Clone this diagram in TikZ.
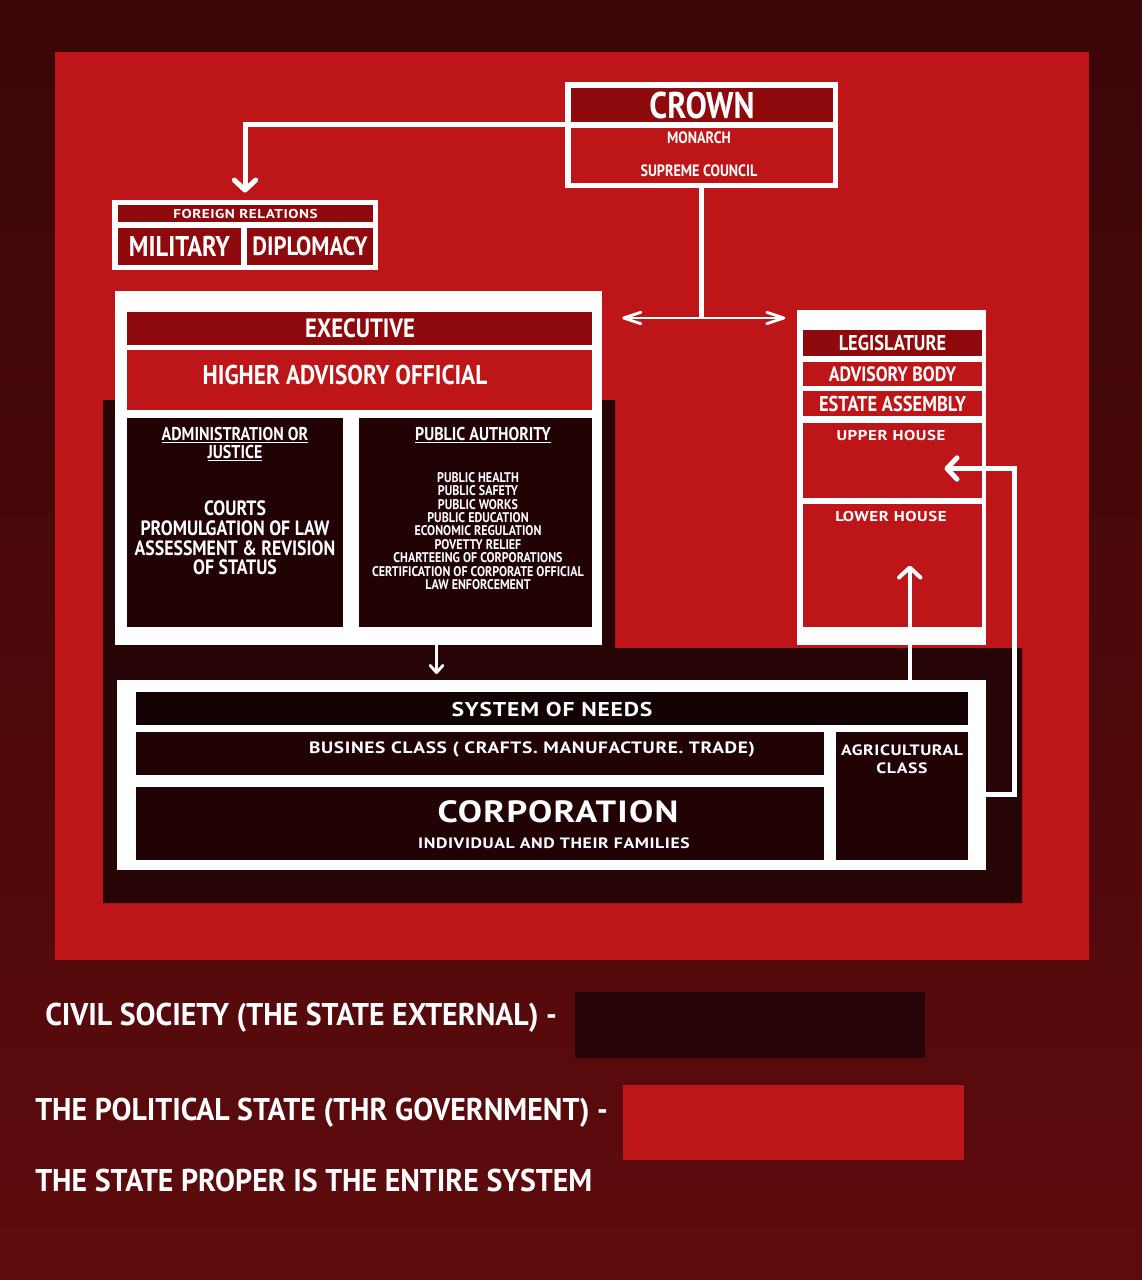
\documentclass[tikz,border=0pt]{standalone}
\usepackage{fontspec}
\setmainfont{PT Sans}[FakeStretch=0.86]
\newfontfamily\widefont{PT Sans}[FakeStretch=1.18,LetterSpace=4]
\newfontfamily\keyfont{PT Sans}[FakeStretch=0.95]
\usetikzlibrary{fit,calc,arrows.meta}

\definecolor{bgtop}{HTML}{3A0608}
\definecolor{bgbottom}{HTML}{5E0B0D}
\definecolor{govred}{HTML}{BE1519}
\definecolor{civil}{HTML}{270406}
\definecolor{barred}{HTML}{8E0A0D}
\definecolor{panel}{HTML}{210306}
\definecolor{needsbar}{HTML}{120203}

\newcommand\fsz[1]{\fontsize{#1}{#1}\selectfont}

\tikzset{
  frame/.style={fill=white, inner sep=0pt},
  bar/.style={fill=barred, inner sep=0pt},
  redpane/.style={fill=govred, inner sep=0pt},
  darkpane/.style={fill=panel, inner sep=0pt},
  lbl/.style={text=white, inner sep=0pt, align=center, font=\bfseries},
  widelbl/.style={text=white, inner sep=0pt, align=center, font=\widefont\bfseries},
  legend/.style={text=white, inner sep=0pt, anchor=west, font=\keyfont\bfseries\fsz{22}},
  link/.style={draw=white, line width=3.5pt},
  thinlink/.style={draw=white, line width=2pt},
  chev/.tip={Straight Barb[length=7pt,width=15pt,round]},
  flatchev/.tip={Straight Barb[length=12pt,width=8pt,round]},
  smallchev/.tip={Straight Barb[length=5pt,width=9pt,round]}
}

\begin{document}
\begin{tikzpicture}[x=0.7pt,y=-0.7pt]
\useasboundingbox (0,0) rectangle (1142,1280);
\fill[top color=bgtop,bottom color=bgbottom] (0,0) rectangle (1142,1280);

% political state and civil society grounds
\fill[govred] (55,52) rectangle (1089,960);
\fill[civil] (103,400) -- (615,400) -- (615,648) -- (1022,648)
  -- (1022,903) -- (103,903) -- cycle;

% crown
\node[frame, fit={(565,82) (838,188)}] (crown) {};
\node[bar, fit={(571,88) (833,122)}] (crownbar) {};
\node[redpane, fit={(571,128) (833,183)}] (crownlow) {};
\node[lbl, font=\bfseries\fsz{26}] (crowntxt) at (crownbar) {CROWN};
\node[lbl, font=\bfseries\fsz{11.5}] (monarch) at (699,138) {MONARCH};
\node[lbl, font=\bfseries\fsz{11.5}] (council) at (699,171) {SUPREME COUNCIL};

% foreign relations
\node[frame, fit={(112,200) (378,270)}] (foreign) {};
\node[bar, fit={(118,205) (373,222)}] (foreignbar) {};
\node[bar, fit={(118,228) (241,265)}] (military) {};
\node[bar, fit={(247,228) (373,265)}] (diplomacy) {};
\node[widelbl, font=\widefont\bfseries\fsz{9}] at (foreignbar) {FOREIGN RELATIONS};
\node[lbl, font=\bfseries\fsz{20}] at (military) {MILITARY};
\node[lbl, font=\bfseries\fsz{18.5}] at (diplomacy) {DIPLOMACY};

% executive
\node[frame, fit={(115,291) (602,645)}] (exec) {};
\node[bar, fit={(127,312) (592,345)}] (execbar) {};
\node[redpane, fit={(127,350) (592,410)}] (advisory) {};
\node[darkpane, fit={(127,418) (343,627)}] (admin) {};
\node[darkpane, fit={(359,418) (592,627)}] (authority) {};
\node[lbl, font=\bfseries\fsz{18.5}] at (360,328) {EXECUTIVE};
\node[lbl, font=\bfseries\fsz{19}] at (345,375) {HIGHER ADVISORY OFFICIAL};
\node[lbl, font=\bfseries\fontsize{13}{12.6}\selectfont] (adminhead) at (235,444)
  {\underline{ADMINISTRATION OR}\\\underline{JUSTICE}};
\node[lbl, font=\bfseries\fontsize{14.5}{13.8}\selectfont] (adminbody) at (235,538)
  {COURTS\\PROMULGATION OF LAW\\ASSESSMENT \& REVISION\\OF STATUS};
\node[lbl, font=\bfseries\fsz{13}] (authhead) at (483,435)
  {\underline{PUBLIC AUTHORITY}};
\node[lbl, font=\bfseries\fontsize{9.8}{9.4}\selectfont] (authbody) at (478,531)
  {PUBLIC HEALTH\\PUBLIC SAFETY\\PUBLIC WORKS\\PUBLIC EDUCATION\\ECONOMIC REGULATION\\
   POVETTY RELIEF\\CHARTEEING OF CORPORATIONS\\CERTIFICATION OF CORPORATE OFFICIAL\\LAW ENFORCEMENT};

% legislature
\node[frame, fit={(797,310) (986,645)}] (legis) {};
\node[bar, fit={(803,330) (982,356)}] (legisbar) {};
\node[redpane, fit={(803,362) (982,386)}] (advbody) {};
\node[redpane, fit={(803,391) (982,416)}] (estate) {};
\node[redpane, fit={(803,423) (982,498)}] (upper) {};
\node[redpane, fit={(803,504) (982,627)}] (lower) {};
\node[lbl, font=\bfseries\fsz{15}] at (legisbar) {LEGISLATURE};
\node[lbl, font=\bfseries\fsz{14.5}] at (advbody) {ADVISORY BODY};
\node[lbl, font=\bfseries\fsz{15}] at (estate) {ESTATE ASSEMBLY};
\node[widelbl, font=\widefont\bfseries\fsz{10}] (uppertxt) at (891,435) {UPPER HOUSE};
\node[widelbl, font=\widefont\bfseries\fsz{10}] (lowertxt) at (891,516) {LOWER HOUSE};

% system of needs
\node[frame, fit={(117,680) (986,870)}] (needs) {};
\node[bar, fill=needsbar, fit={(136,692) (968,725)}] (needsbar) {};
\node[darkpane, fit={(136,732) (824,775)}] (business) {};
\node[darkpane, fit={(136,787) (824,860)}] (corporation) {};
\node[darkpane, fit={(836,732) (968,860)}] (agri) {};
\node[widelbl, font=\widefont\bfseries\fsz{14}] at (552,709) {SYSTEM OF NEEDS};
\node[widelbl, font=\widefont\bfseries\fsz{11.5}] at (532,749) {BUSINES CLASS ( CRAFTS. MANUFACTURE. TRADE)};
\node[widelbl, font=\widefont\bfseries\fsz{21.5}] (corptxt) at (558,812) {CORPORATION};
\node[widelbl, font=\widefont\bfseries\fsz{10.5}] (famtxt) at (554,843) {INDIVIDUAL AND THEIR FAMILIES};
\node[widelbl, font=\widefont\bfseries\fontsize{10.5}{12.4}\selectfont] (agritxt) at (902,759) {AGRICULTURAL\\CLASS};

% connectors
\coordinate (crownout) at ($(crown.north west)!0.4!(crown.south west)$);
\draw[link, -{chev}, shorten >=5pt] (crownout) -| (foreign.north);
\coordinate (hub) at (crown.south |- 0,318);
\draw[link] (crown.south) -- (hub);
\draw[thinlink, {flatchev}-{flatchev}, shorten <=14pt, shorten >=8pt] (exec.east |- hub) -- (legis.west |- hub);
\coordinate (execout) at ($(exec.south west)!0.66!(exec.south east)$);
\draw[thinlink, -{smallchev}, shorten >=4pt] (execout) -- (execout |- needs.north);
\coordinate (needsout) at ($(needs.north west)!0.912!(needs.north east)$);
\draw[link, line width=2.8pt, -{chev}] (needsout) -- (needsout |- lower.center);
\coordinate (agriout) at ($(needs.north east)!0.6!(needs.south east)$);
\draw[link, -{chev}] (agriout) -- ++(28,0) |- ([shift={(52,8)}]upper.center);

% key
\node[legend] (civiltxt) at (45,1018) {CIVIL SOCIETY (THE STATE EXTERNAL) -};
\node[fill=civil, inner sep=0pt, fit={(575,992) (925,1058)}] (civilkey) {};
\node[legend] (govtxt) at (35,1113) {THE POLITICAL STATE (THR GOVERNMENT) -};
\node[fill=govred, inner sep=0pt, fit={(623,1085) (964,1160)}] (govkey) {};
\node[legend] (propertxt) at (35,1180) {THE STATE PROPER IS THE ENTIRE SYSTEM};
\end{tikzpicture}
\end{document}
